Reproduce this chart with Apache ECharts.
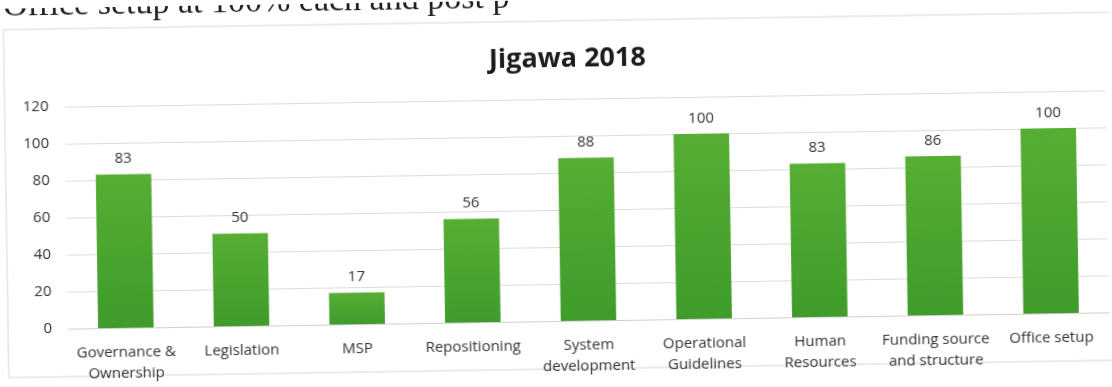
<!DOCTYPE html>
<html>
<head>
<meta charset="utf-8">
<script src="https://cdn.jsdelivr.net/npm/echarts@6/dist/echarts.min.js"></script>
<style>
  html, body { margin: 0; padding: 0; background: #fff; overflow: hidden; }
  #chart { width: 1112px; height: 387px; transform: rotate(-0.9deg); transform-origin: 556px 193px; }
</style>
</head>
<body>
<div id="chart"></div>
<script>
// Assessment scores per component, Jigawa 2018
const categories = [
  'Governance &\nOwnership',
  'Legislation',
  'MSP',
  'Repositioning',
  'System\ndevelopment',
  'Operational\nGuidelines',
  'Human\nResources',
  'Funding source\nand structure',
  'Office setup'
];
const scores = [83, 50, 17, 56, 88, 100, 83, 86, 100];
const yMin = 0;
const yMax = 120;
const yStep = 20;
const chartTitle = 'Jigawa 2018';
const leadText = 'Office setup at 100% each and post p';

const chart = echarts.init(document.getElementById('chart'), null, { renderer: 'canvas' });

const barFill = new echarts.graphic.LinearGradient(0, 0, 0, 1, [
  { offset: 0, color: '#56ae33' },
  { offset: 1, color: '#3f9c2b' }
]);

chart.setOption({
  backgroundColor: '#ffffff',
  animation: false,
  title: {
    text: chartTitle,
    left: 486,
    top: 41,
    textStyle: { fontFamily: 'Open Sans', fontWeight: 'bold', fontSize: 27, color: '#1c1c1c' }
  },
  graphic: [
    {
      type: 'rect',
      shape: { x: 6, y: 21, width: 1130, height: 348 },
      style: { fill: 'none', stroke: '#d6d6d6', lineWidth: 1 },
      silent: true
    },
    {
      type: 'text',
      left: 6,
      top: -19,
      style: { text: leadText, font: '34px "Liberation Serif"', fill: '#1e1e1e' },
      silent: true
    }
  ],
  grid: { left: 66, right: 5, top: 99, bottom: 66, containLabel: false },
  xAxis: {
    type: 'category',
    data: categories,
    axisLine: { show: true, lineStyle: { color: '#d0d0d0', width: 1 } },
    axisTick: { show: false },
    axisLabel: {
      interval: 0,
      margin: 14,
      fontFamily: 'Open Sans',
      fontSize: 15,
      lineHeight: 21,
      color: '#333333'
    }
  },
  yAxis: {
    type: 'value',
    min: yMin,
    max: yMax,
    interval: yStep,
    axisLine: { show: false },
    axisTick: { show: false },
    axisLabel: { margin: 16, fontFamily: 'Open Sans', fontSize: 15, color: '#333333' },
    splitLine: { show: true, lineStyle: { color: '#dcdcdc', width: 1 } }
  },
  series: [{
    type: 'bar',
    data: scores,
    barWidth: '48%',
    itemStyle: { color: barFill },
    label: {
      show: true,
      position: 'top',
      distance: 8,
      fontFamily: 'Open Sans',
      fontSize: 15,
      color: '#333333'
    }
  }]
});
</script>
</body>
</html>
